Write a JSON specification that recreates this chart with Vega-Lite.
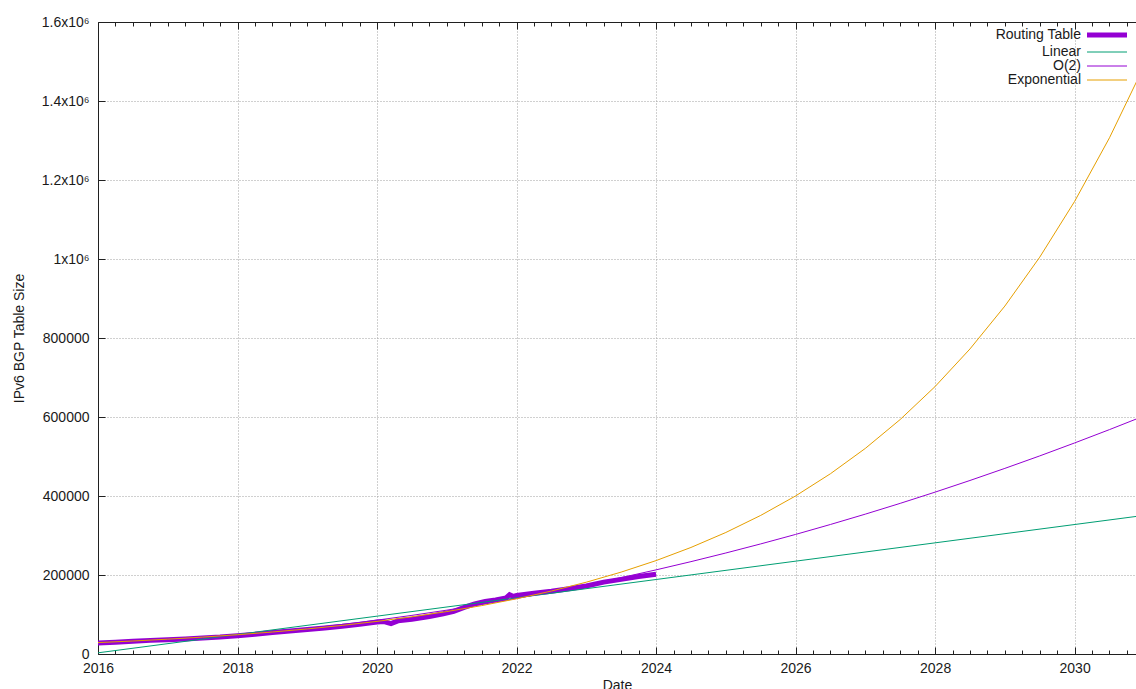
{
  "$schema": "https://vega.github.io/schema/vega-lite/v6.json",
  "width": 1038,
  "height": 632,
  "autosize": "none",
  "padding": {"left": 98, "top": 22, "right": 0, "bottom": 35},
  "background": "white",
  "config": {
    "view": {"stroke": null},
    "font": "Liberation Sans",
    "axis": {"labelFont": "Liberation Sans", "titleFont": "Liberation Sans", "labelFontSize": 14, "titleFontSize": 14, "titleFontWeight": "normal", "labelColor": "#1a1a1a", "titleColor": "#1a1a1a", "domainColor": "#202020", "tickColor": "#202020", "gridColor": "#a0a0a0", "gridDash": [1, 2], "gridWidth": 1}
  },
  "datasets": {
    "lines": [
      {"date": 2016.0, "size": 28000, "series": "Routing Table"},
      {"date": 2016.25, "size": 30000, "series": "Routing Table"},
      {"date": 2016.5, "size": 32500, "series": "Routing Table"},
      {"date": 2016.75, "size": 34500, "series": "Routing Table"},
      {"date": 2017.0, "size": 36000, "series": "Routing Table"},
      {"date": 2017.25, "size": 38000, "series": "Routing Table"},
      {"date": 2017.5, "size": 40500, "series": "Routing Table"},
      {"date": 2017.75, "size": 43000, "series": "Routing Table"},
      {"date": 2018.0, "size": 46500, "series": "Routing Table"},
      {"date": 2018.25, "size": 50000, "series": "Routing Table"},
      {"date": 2018.5, "size": 54500, "series": "Routing Table"},
      {"date": 2018.75, "size": 58500, "series": "Routing Table"},
      {"date": 2019.0, "size": 62000, "series": "Routing Table"},
      {"date": 2019.25, "size": 66000, "series": "Routing Table"},
      {"date": 2019.5, "size": 70000, "series": "Routing Table"},
      {"date": 2019.75, "size": 75000, "series": "Routing Table"},
      {"date": 2020.0, "size": 81000, "series": "Routing Table"},
      {"date": 2020.1, "size": 82000, "series": "Routing Table"},
      {"date": 2020.2, "size": 77000, "series": "Routing Table"},
      {"date": 2020.3, "size": 84000, "series": "Routing Table"},
      {"date": 2020.5, "size": 88000, "series": "Routing Table"},
      {"date": 2020.75, "size": 95000, "series": "Routing Table"},
      {"date": 2020.95, "size": 102000, "series": "Routing Table"},
      {"date": 2021.1, "size": 108000, "series": "Routing Table"},
      {"date": 2021.25, "size": 118000, "series": "Routing Table"},
      {"date": 2021.4, "size": 127000, "series": "Routing Table"},
      {"date": 2021.55, "size": 133000, "series": "Routing Table"},
      {"date": 2021.7, "size": 137000, "series": "Routing Table"},
      {"date": 2021.85, "size": 142000, "series": "Routing Table"},
      {"date": 2021.9, "size": 150000, "series": "Routing Table"},
      {"date": 2021.95, "size": 146000, "series": "Routing Table"},
      {"date": 2022.0, "size": 148000, "series": "Routing Table"},
      {"date": 2022.25, "size": 154000, "series": "Routing Table"},
      {"date": 2022.5, "size": 159000, "series": "Routing Table"},
      {"date": 2022.75, "size": 165000, "series": "Routing Table"},
      {"date": 2023.0, "size": 172000, "series": "Routing Table"},
      {"date": 2023.25, "size": 182000, "series": "Routing Table"},
      {"date": 2023.5, "size": 189000, "series": "Routing Table"},
      {"date": 2023.75, "size": 196000, "series": "Routing Table"},
      {"date": 2024.0, "size": 202000, "series": "Routing Table"},
      {"date": 2016.0, "size": 3000, "series": "Linear"},
      {"date": 2024.0, "size": 188600, "series": "Linear"},
      {"date": 2031.0, "size": 351000, "series": "Linear"},
      {"date": 2016.0, "size": 28000, "series": "O(2)"},
      {"date": 2016.5, "size": 31400, "series": "O(2)"},
      {"date": 2017.0, "size": 35900, "series": "O(2)"},
      {"date": 2017.5, "size": 41500, "series": "O(2)"},
      {"date": 2018.0, "size": 48200, "series": "O(2)"},
      {"date": 2018.5, "size": 55900, "series": "O(2)"},
      {"date": 2019.0, "size": 64800, "series": "O(2)"},
      {"date": 2019.5, "size": 74700, "series": "O(2)"},
      {"date": 2020.0, "size": 85700, "series": "O(2)"},
      {"date": 2020.5, "size": 97800, "series": "O(2)"},
      {"date": 2021.0, "size": 111000, "series": "O(2)"},
      {"date": 2021.5, "size": 125300, "series": "O(2)"},
      {"date": 2022.0, "size": 140700, "series": "O(2)"},
      {"date": 2022.5, "size": 157100, "series": "O(2)"},
      {"date": 2023.0, "size": 174700, "series": "O(2)"},
      {"date": 2023.5, "size": 193300, "series": "O(2)"},
      {"date": 2024.0, "size": 213000, "series": "O(2)"},
      {"date": 2024.5, "size": 233800, "series": "O(2)"},
      {"date": 2025.0, "size": 255700, "series": "O(2)"},
      {"date": 2025.5, "size": 278700, "series": "O(2)"},
      {"date": 2026.0, "size": 302700, "series": "O(2)"},
      {"date": 2026.5, "size": 327900, "series": "O(2)"},
      {"date": 2027.0, "size": 354100, "series": "O(2)"},
      {"date": 2027.5, "size": 381400, "series": "O(2)"},
      {"date": 2028.0, "size": 409800, "series": "O(2)"},
      {"date": 2028.5, "size": 439300, "series": "O(2)"},
      {"date": 2029.0, "size": 469900, "series": "O(2)"},
      {"date": 2029.5, "size": 501500, "series": "O(2)"},
      {"date": 2030.0, "size": 534300, "series": "O(2)"},
      {"date": 2030.5, "size": 568100, "series": "O(2)"},
      {"date": 2031.0, "size": 603000, "series": "O(2)"},
      {"date": 2016.0, "size": 28840, "series": "Exponential"},
      {"date": 2016.5, "size": 32890, "series": "Exponential"},
      {"date": 2017.0, "size": 37520, "series": "Exponential"},
      {"date": 2017.5, "size": 42790, "series": "Exponential"},
      {"date": 2018.0, "size": 48800, "series": "Exponential"},
      {"date": 2018.5, "size": 55660, "series": "Exponential"},
      {"date": 2019.0, "size": 63480, "series": "Exponential"},
      {"date": 2019.5, "size": 72410, "series": "Exponential"},
      {"date": 2020.0, "size": 82580, "series": "Exponential"},
      {"date": 2020.5, "size": 94190, "series": "Exponential"},
      {"date": 2021.0, "size": 107430, "series": "Exponential"},
      {"date": 2021.5, "size": 122520, "series": "Exponential"},
      {"date": 2022.0, "size": 139740, "series": "Exponential"},
      {"date": 2022.5, "size": 159380, "series": "Exponential"},
      {"date": 2023.0, "size": 181780, "series": "Exponential"},
      {"date": 2023.5, "size": 207330, "series": "Exponential"},
      {"date": 2024.0, "size": 236470, "series": "Exponential"},
      {"date": 2024.5, "size": 269710, "series": "Exponential"},
      {"date": 2025.0, "size": 307610, "series": "Exponential"},
      {"date": 2025.5, "size": 350840, "series": "Exponential"},
      {"date": 2026.0, "size": 400150, "series": "Exponential"},
      {"date": 2026.5, "size": 456390, "series": "Exponential"},
      {"date": 2027.0, "size": 520530, "series": "Exponential"},
      {"date": 2027.5, "size": 593700, "series": "Exponential"},
      {"date": 2028.0, "size": 677130, "series": "Exponential"},
      {"date": 2028.5, "size": 772300, "series": "Exponential"},
      {"date": 2029.0, "size": 880830, "series": "Exponential"},
      {"date": 2029.5, "size": 1004640, "series": "Exponential"},
      {"date": 2030.0, "size": 1145840, "series": "Exponential"},
      {"date": 2030.5, "size": 1306860, "series": "Exponential"},
      {"date": 2031.0, "size": 1490000, "series": "Exponential"}
    ]
  },
  "data": {"name": "lines"},
  "layer": [
    {
      "mark": {"type": "line", "clip": true},
      "encoding": {
        "x": {
          "field": "date", "type": "quantitative",
          "scale": {"domain": [2016, 2030.88], "nice": false, "zero": false},
          "axis": {
            "orient": "bottom",
            "title": "Date",
            "values": [2016, 2016.25, 2016.5, 2016.75, 2017, 2017.25, 2017.5, 2017.75, 2018, 2018.25, 2018.5, 2018.75, 2019, 2019.25, 2019.5, 2019.75, 2020, 2020.25, 2020.5, 2020.75, 2021, 2021.25, 2021.5, 2021.75, 2022, 2022.25, 2022.5, 2022.75, 2023, 2023.25, 2023.5, 2023.75, 2024, 2024.25, 2024.5, 2024.75, 2025, 2025.25, 2025.5, 2025.75, 2026, 2026.25, 2026.5, 2026.75, 2027, 2027.25, 2027.5, 2027.75, 2028, 2028.25, 2028.5, 2028.75, 2029, 2029.25, 2029.5, 2029.75, 2030, 2030.25, 2030.5, 2030.75],
            "labelExpr": "datum.value % 2 === 0 ? format(datum.value, 'd') : ''",
            "labelOverlap": false,
            "labelFlush": false,
            "labelPadding": 14,
            "tickSize": {"condition": {"test": "datum.value % 2 === 0", "value": -7}, "value": -4},
            "gridOpacity": {"condition": {"test": "datum.value % 2 === 0 && datum.value > 2016", "value": 1}, "value": 0},
            "grid": true,
            "titlePadding": 0
          }
        },
        "y": {
          "field": "size", "type": "quantitative",
          "scale": {"domain": [0, 1600000], "nice": false},
          "axis": {
            "title": "IPv6 BGP Table Size",
            "values": [0, 200000, 400000, 600000, 800000, 1000000, 1200000, 1400000, 1600000],
            "labelExpr": "datum.value >= 1000000 ? (datum.value === 1000000 ? '1x10⁶' : format(datum.value / 1000000, '.1f') + 'x10⁶') : format(datum.value, 'd')",
            "tickSize": -7,
            "labelPadding": 16,
            "grid": true,
            "gridOpacity": {"condition": {"test": "datum.value > 0 && datum.value < 1600000", "value": 1}, "value": 0},
            "titlePadding": 15
          }
        },
        "color": {
          "field": "series", "type": "nominal",
          "scale": {"domain": ["Routing Table", "Linear", "O(2)", "Exponential"], "range": ["#9400d3", "#009e73", "#9400d3", "#e69f00"]},
          "legend": {
            "title": null, "orient": "none", "legendX": 1002, "legendY": 6,
            "symbolType": "M-5,0H5", "symbolSize": 64,
            "labelAlign": "right", "labelOffset": -33,
            "labelFontSize": 14, "labelFont": "Liberation Sans", "labelColor": "#1a1a1a",
            "rowPadding": 0, "padding": 0
          }
        },
        "strokeWidth": {
          "field": "series", "type": "nominal",
          "scale": {"type": "ordinal", "domain": ["Routing Table", "Linear", "O(2)", "Exponential"], "range": [5, 1, 1, 1]}
        }
      }
    },
    {
      "mark": {"type": "point", "opacity": 0},
      "encoding": {
        "x": {
          "field": "date", "type": "quantitative",
          "axis": {
            "orient": "top", "title": null, "labels": false, "grid": false,
            "values": [2016, 2016.25, 2016.5, 2016.75, 2017, 2017.25, 2017.5, 2017.75, 2018, 2018.25, 2018.5, 2018.75, 2019, 2019.25, 2019.5, 2019.75, 2020, 2020.25, 2020.5, 2020.75, 2021, 2021.25, 2021.5, 2021.75, 2022, 2022.25, 2022.5, 2022.75, 2023, 2023.25, 2023.5, 2023.75, 2024, 2024.25, 2024.5, 2024.75, 2025, 2025.25, 2025.5, 2025.75, 2026, 2026.25, 2026.5, 2026.75, 2027, 2027.25, 2027.5, 2027.75, 2028, 2028.25, 2028.5, 2028.75, 2029, 2029.25, 2029.5, 2029.75, 2030, 2030.25, 2030.5, 2030.75],
            "tickSize": {"condition": {"test": "datum.value % 2 === 0", "value": -7}, "value": -4}
          }
        },
        "y": {"field": "size", "type": "quantitative", "axis": null}
      }
    }
  ],
  "resolve": {"axis": {"x": "independent", "y": "independent"}}
}
